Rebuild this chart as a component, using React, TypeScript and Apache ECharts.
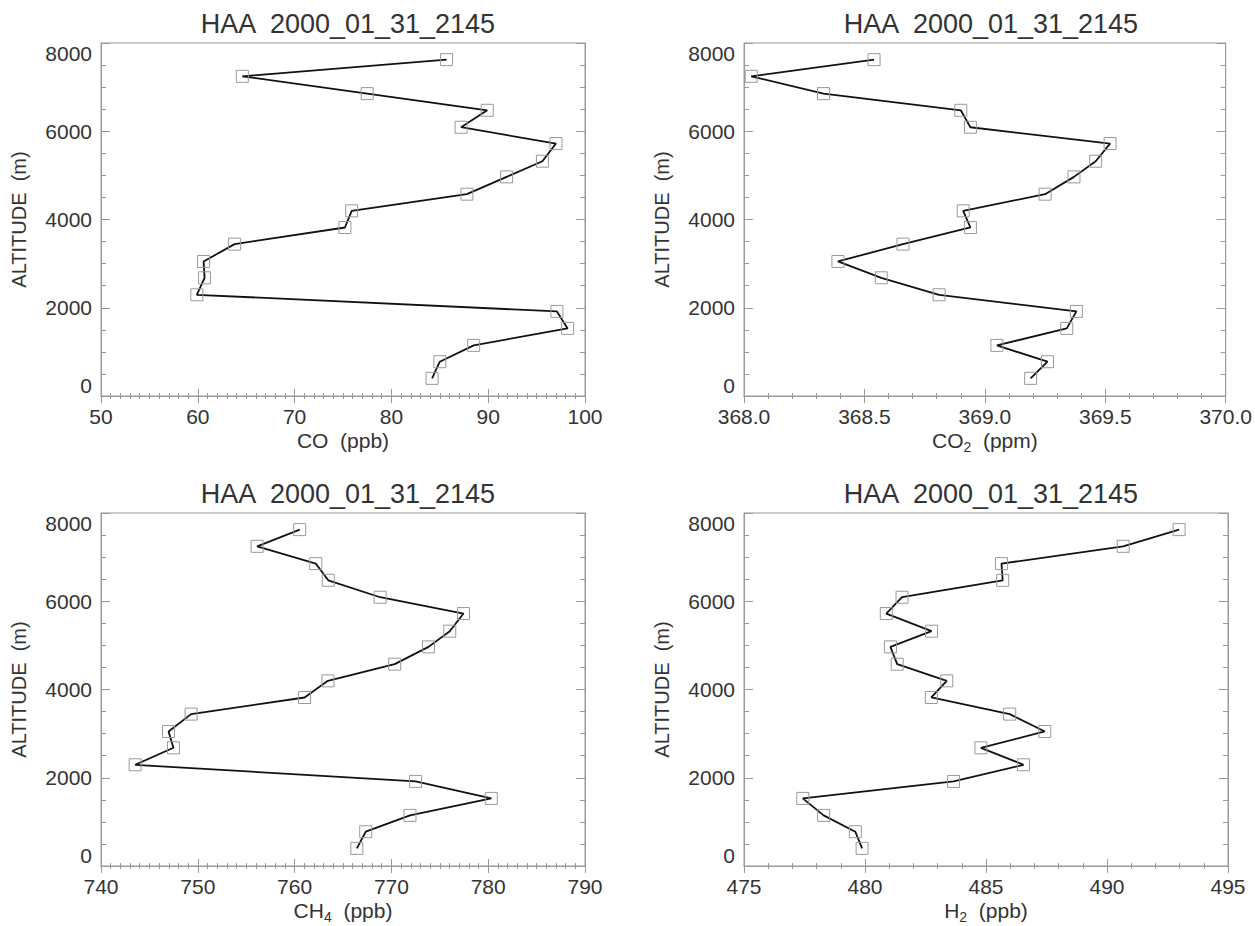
import React, { useEffect, useRef } from "react";
import * as echarts from "echarts";

const TITLE = "HAA  2000_01_31_2145";
const ALTITUDE = [400, 777, 1147, 1532, 1917, 2294, 2679, 3049, 3442, 3819, 4196, 4574, 4966, 5321, 5721, 6091, 6475, 6853, 7245, 7623];
const CO = [84.2, 85.0, 88.5, 98.2, 97.1, 59.9, 60.7, 60.6, 63.8, 75.2, 75.9, 87.8, 91.9, 95.6, 97.0, 87.2, 89.9, 77.5, 64.6, 85.7];
const CO2 = [369.19, 369.26, 369.05, 369.34, 369.38, 368.81, 368.57, 368.39, 368.66, 368.94, 368.91, 369.25, 369.37, 369.46, 369.52, 368.94, 368.9, 368.33, 368.03, 368.54];
const CH4 = [766.43, 767.35, 771.92, 780.32, 772.5, 743.53, 747.48, 746.98, 749.31, 761.03, 763.44, 770.34, 773.83, 776.03, 777.45, 768.84, 763.48, 762.19, 756.13, 760.53];
const H2 = [479.88, 479.6, 478.29, 477.43, 483.66, 486.55, 484.79, 487.43, 485.98, 482.74, 483.38, 481.33, 481.05, 482.75, 480.88, 481.53, 485.69, 485.64, 490.67, 492.98];

const Y_TICKS = { min: 0, max: 8000, interval: 2000, minorSplit: 4 };

const PANELS = [
  { values: CO, name: "{a|CO  (ppb)}", min: 50, max: 100, interval: 10, minorSplit: 10, decimals: 0 },
  { values: CO2, name: "{a|CO}{s|2}{a|  (ppm)}", min: 368, max: 370, interval: 0.5, minorSplit: 5, decimals: 1 },
  { values: CH4, name: "{a|CH}{s|4}{a|  (ppb)}", min: 740, max: 790, interval: 10, minorSplit: 10, decimals: 0 },
  { values: H2, name: "{a|H}{s|2}{a|  (ppb)}", min: 475, max: 495, interval: 5, minorSplit: 5, decimals: 0 },
];

const FONT = "Liberation Sans";
const TEXT = "#333";
const FRAME = "#999";

export default function App() {
  const ref = useRef<HTMLDivElement>(null);
  useEffect(() => {
    if (!ref.current) return;
    const chart = echarts.init(ref.current, null, { renderer: "svg" });
    const lefts = [101, 744, 101, 744];
    const tops = [43, 43, 513, 513];
    const W = 484;
    const H = 353;
    const grid: any[] = [];
    const xAxis: any[] = [];
    const yAxis: any[] = [];
    const series: any[] = [];
    const title: any[] = [];
    PANELS.forEach((p, i) => {
      grid.push({
        left: lefts[i], top: tops[i], width: W, height: H,
        show: true, borderColor: FRAME, borderWidth: 1, backgroundColor: "transparent",
      });
      title.push({
        text: TITLE,
        left: lefts[i] + W / 2,
        textAlign: "center",
        top: tops[i] - 38,
        textStyle: { fontFamily: FONT, fontSize: 27, fontWeight: "normal", color: TEXT },
      });
      const xCommon = {
        type: "value", gridIndex: i, min: p.min, max: p.max, interval: p.interval,
        splitLine: { show: false },
        axisLine: { show: true, lineStyle: { color: FRAME, width: 1 } },
        axisTick: { show: true, inside: true, length: 7, lineStyle: { color: FRAME } },
        minorTick: { show: true, splitNumber: p.minorSplit, length: 3, lineStyle: { color: FRAME } },
      };
      xAxis.push({
        ...xCommon,
        position: "bottom",
        name: p.name,
        nameLocation: "middle",
        nameGap: 34,
        nameTextStyle: {
          fontFamily: FONT, color: TEXT,
          rich: {
            a: { fontFamily: FONT, fontSize: 21, color: TEXT, lineHeight: 22, verticalAlign: "top" },
            s: { fontFamily: FONT, fontSize: 14, color: TEXT, lineHeight: 16, verticalAlign: "top", padding: [10, 0, 0, 0] },
          },
        },
        axisLabel: {
          show: true, margin: 10, fontFamily: FONT, fontSize: 21, color: TEXT,
          formatter: (v: number) => v.toFixed(p.decimals),
        },
      });
      xAxis.push({ ...xCommon, position: "top", axisLabel: { show: false } });
      const yCommon = {
        type: "value", gridIndex: i, min: Y_TICKS.min, max: Y_TICKS.max, interval: Y_TICKS.interval,
        splitLine: { show: false },
        axisLine: { show: true, lineStyle: { color: FRAME, width: 1 } },
        axisTick: { show: true, inside: true, length: 9, lineStyle: { color: FRAME } },
        minorTick: { show: true, splitNumber: Y_TICKS.minorSplit, length: 5, lineStyle: { color: FRAME } },
      };
      yAxis.push({
        ...yCommon,
        position: "left",
        name: "ALTITUDE  (m)",
        nameLocation: "middle",
        nameGap: 72,
        nameTextStyle: { fontFamily: FONT, fontSize: 20, color: TEXT },
        axisLabel: {
          show: true, margin: 9, fontFamily: FONT, fontSize: 21, color: TEXT,
          verticalAlignMinLabel: "bottom", verticalAlignMaxLabel: "top",
          formatter: (v: number) => String(Math.round(v)),
        },
      });
      yAxis.push({ ...yCommon, position: "right", axisLabel: { show: false } });
      series.push({
        type: "line",
        xAxisIndex: i * 2,
        yAxisIndex: i * 2,
        data: p.values.map((v, k) => [v, ALTITUDE[k]]),
        symbol: "rect",
        symbolSize: 12,
        showSymbol: true,
        lineStyle: { color: "#111", width: 1.8 },
        itemStyle: { color: "rgba(255,255,255,0)", borderColor: "#999", borderWidth: 1 },
        z: 3,
      });
    });
    chart.setOption({
      animation: false,
      backgroundColor: "#fff",
      textStyle: { fontFamily: FONT },
      title,
      grid,
      xAxis,
      yAxis,
      series,
    });
    return () => chart.dispose();
  }, []);
  return <div ref={ref} style={{ position: "absolute", left: 0, top: 0, width: 1255, height: 926 }} />;
}
